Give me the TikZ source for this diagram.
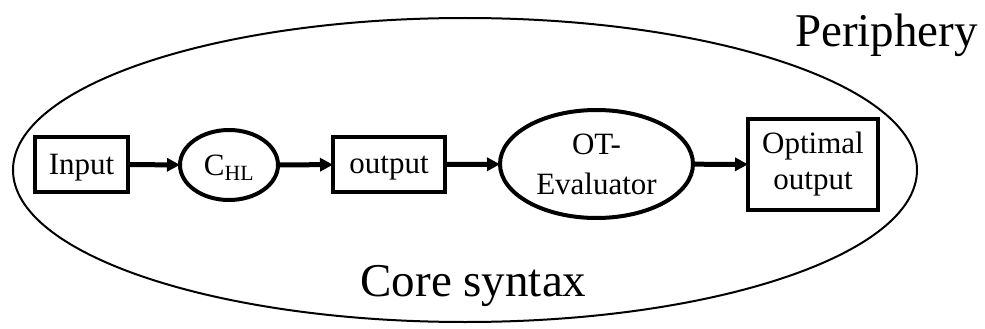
\documentclass[tikz,border=0pt]{standalone}
\usepackage{fontspec}
\setmainfont{Liberation Serif}
\usetikzlibrary{shapes.geometric, arrows.meta}

\begin{document}
\begin{tikzpicture}[
  x = 1pt, y = -1pt,
  box/.style = {
    shape = rectangle,
    draw = black,
    line width = 4pt,
    inner sep = 0pt,
    outer sep = 0pt,
    font = \fontsize{31}{36}\selectfont,
    align = center,
  },
  oval/.style = {
    shape = ellipse,
    draw = black,
    line width = 4pt,
    inner sep = 0pt,
    outer sep = 0pt,
    font = \fontsize{31}{40}\selectfont,
    align = center,
  },
  label/.style = {
    font = \fontsize{47}{50}\selectfont,
    inner sep = 0pt,
  }
]
  \useasboundingbox (0, 0) rectangle (985, 329);

  \node[draw, ellipse, line width = 2pt, minimum width = 904pt,
    minimum height = 304pt, inner sep = 0pt] (core) at (465, 170) {};

  \node[box, text depth = 0pt, minimum width = 93pt, minimum height = 55pt] (input) at (81.5, 164.5) {Input};
  \node[oval, text depth = 0pt, minimum width = 98pt, minimum height = 70pt] (chl) at (229, 165) {C\textsubscript{HL}};
  \node[box, text depth = 0pt, minimum width = 112pt, minimum height = 55pt] (output) at (389, 164.5) {output};
  \node[oval, minimum width = 193pt, minimum height = 108pt] (ot) at (596.5, 164) {OT-\\Evaluator};
  \node[box, minimum width = 130pt, minimum height = 91pt] (optimal) at (813, 164.5) {Optimal\\output};

  \node[label, anchor = base west] (periphery) at (795, 47) {Periphery};
  \node[label, anchor = base] (coresyntax) at (473.5, 296) {Core syntax};

  \begin{scope}[
    every path/.style = {-{Triangle[length = 13pt, width = 13pt]}, line width = 5pt}
  ]
    \draw (input) -- (chl);
    \draw (chl) -- (output);
    \draw (output) -- (ot);
    \draw (ot) -- (optimal);
  \end{scope}
\end{tikzpicture}
\end{document}
